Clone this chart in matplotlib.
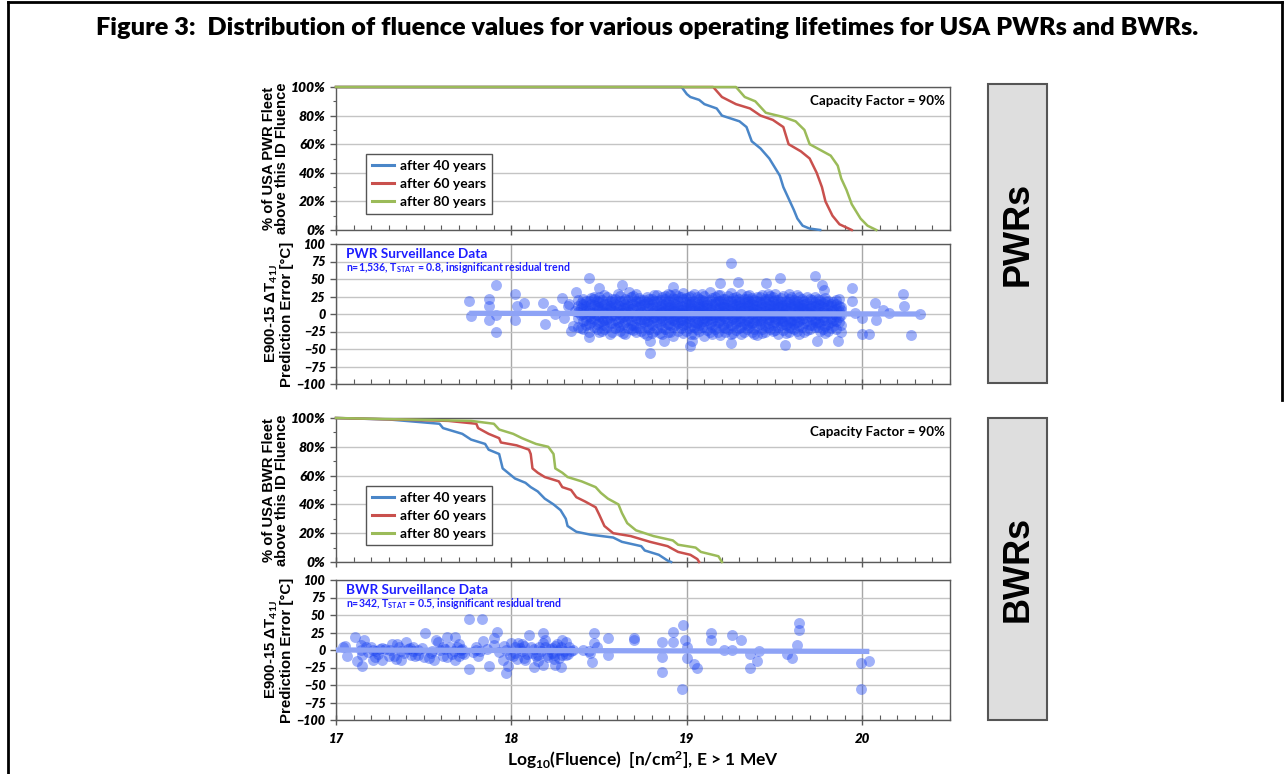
import matplotlib
matplotlib.use('Agg')
import matplotlib.pyplot as plt
from matplotlib.patches import Rectangle
from matplotlib.lines import Line2D
from matplotlib.ticker import MultipleLocator, FuncFormatter

plt.rcParams['font.family'] = ['Lato', 'DejaVu Sans']
plt.rcParams['mathtext.fontset'] = 'custom'
plt.rcParams['mathtext.rm'] = 'Lato:bold'
plt.rcParams['mathtext.bf'] = 'Lato:bold'
plt.rcParams['mathtext.it'] = 'Lato:bold:italic'
plt.rcParams['mathtext.default'] = 'bf'

# ---------------- data ----------------
series_labels = ['after 40 years', 'after 60 years', 'after 80 years']
series_colors = ['#4a86c8', '#c9504d', '#9bbb59']

# PWR exceedance curves (log10 fluence, % of fleet)
pwr40_x = [17.0, 18.97, 19.0, 19.02, 19.07, 19.1, 19.17, 19.2, 19.25, 19.3, 19.34, 19.37, 19.42, 19.47, 19.5, 19.53, 19.55, 19.58, 19.61, 19.63, 19.66, 19.7, 19.76]
pwr40_y = [100, 100, 95, 93, 91, 88, 85, 80, 78, 76, 72, 62, 57, 50, 44, 38, 30, 22, 14, 8, 3, 1, 0]
pwr60_x = [17.0, 19.15, 19.2, 19.28, 19.36, 19.42, 19.49, 19.55, 19.58, 19.65, 19.7, 19.74, 19.77, 19.79, 19.83, 19.87, 19.94]
pwr60_y = [100, 100, 93, 88, 85, 80, 77, 72, 60, 55, 50, 40, 30, 20, 10, 4, 0]
pwr80_x = [17.0, 19.28, 19.33, 19.39, 19.45, 19.55, 19.62, 19.67, 19.7, 19.76, 19.82, 19.86, 19.88, 19.91, 19.94, 19.99, 20.03, 20.08]
pwr80_y = [100, 100, 93, 90, 82, 79, 76, 70, 60, 56, 52, 45, 36, 28, 18, 8, 3, 0]

# BWR exceedance curves
bwr40_x = [17.0, 17.3, 17.59, 17.61, 17.72, 17.77, 17.85, 17.87, 17.93, 17.95, 17.98, 18.02, 18.08, 18.11, 18.15, 18.19, 18.24, 18.28, 18.31, 18.32, 18.37, 18.45, 18.58, 18.63, 18.74, 18.76, 18.84, 18.89, 18.91]
bwr40_y = [100, 99, 96, 93, 89, 85, 82, 78, 75, 65, 62, 58, 55, 52, 49, 44, 40, 36, 30, 25, 21, 19, 17, 14, 11, 8, 5, 1, 0]
bwr60_x = [17.0, 17.64, 17.8, 17.81, 17.87, 17.93, 17.94, 18.03, 18.1, 18.11, 18.12, 18.15, 18.19, 18.27, 18.29, 18.34, 18.37, 18.42, 18.48, 18.5, 18.53, 18.58, 18.68, 18.79, 18.89, 18.95, 19.02, 19.06, 19.07]
bwr60_y = [100, 98, 96, 93, 89, 86, 83, 81, 78, 75, 65, 62, 59, 56, 52, 50, 45, 42, 38, 33, 25, 20, 18, 14, 11, 7, 5, 2, 0]
bwr80_x = [17.0, 17.77, 17.9, 17.93, 18.01, 18.06, 18.14, 18.21, 18.24, 18.25, 18.29, 18.32, 18.4, 18.48, 18.51, 18.55, 18.61, 18.63, 18.66, 18.71, 18.81, 18.92, 18.95, 19.05, 19.08, 19.18, 19.2]
bwr80_y = [100, 98, 96, 92, 89, 86, 82, 80, 75, 65, 62, 59, 56, 52, 48, 44, 40, 34, 27, 22, 18, 15, 12, 10, 7, 4, 0]

# PWR surveillance residuals: dense core, columns of (fluence, [errors])
pwr_core = [
    (18.38, [12, -5, 20, -18, 3]), (18.395, [-2, 16, -20, 8]),
    (18.41, [-10, 7, 22, -22, 0, 15]), (18.425, [5, -9, 19, -16, 11]),
    (18.44, [4, -14, 18, -25, 9, -3]), (18.455, [-12, 2, 23, -6, 15]),
    (18.47, [-7, 13, 25, -19, 2, 21]), (18.485, [8, -21, 12, -1, 18, -14]),
    (18.50, [10, -12, -26, 6, 17, -3, 24]), (18.515, [-5, 20, -10, 4, -24, 11]),
    (18.53, [-16, 1, 14, -8, 27, -22]), (18.545, [15, -7, 24, -18, 1, 9]),
    (18.56, [8, -4, 19, -28, 12, -13, 3]), (18.575, [-13, 6, -25, 17, -2, 22]),
    (18.59, [-9, 22, 5, -20, 15, -2]), (18.605, [3, -11, 13, 28, -19, 7]),
    (18.62, [11, -17, 26, -6, 0, 18, -24]), (18.635, [-4, 18, -14, 9, -27, 2]),
    (18.65, [-11, 4, 21, -29, 9, -3, 14]), (18.665, [12, -20, 5, 20, -9, -1]),
    (18.68, [16, -8, 2, -22, 24, 7, -15]), (18.695, [-16, 8, 26, -3, 14, -23]),
    (18.71, [-5, 12, -18, 28, -1, 19, -26]), (18.725, [2, -9, 17, -20, 10, 23]),
    (18.74, [6, -13, 20, -7, 3, -24, 13]), (18.755, [-7, 14, -27, 5, 20, -12]),
    (18.77, [-10, 17, -2, 25, -19, 9, -30]), (18.785, [9, -3, 22, -14, 16, -21, 0]),
    (18.80, [14, -6, 1, -16, 22, -27, 8]), (18.815, [-9, 18, -24, 4, 27, -4]),
    (18.83, [-12, 5, 27, -21, 11, -1, 18]), (18.845, [6, -14, 11, -27, 20, -6, 1]),
    (18.86, [3, -18, 15, -8, 24, -29, 9, -3]), (18.875, [-2, 22, -11, 14, -21, 6, 26]),
    (18.89, [-14, 10, -25, 19, 0, 29, -7, 13]), (18.905, [13, -6, 2, -16, 27, -26, 9]),
    (18.92, [7, -9, 23, -19, 4, -31, 16, -2]), (18.935, [-10, 5, 15, -3, 21, -15, 28]),
    (18.95, [-4, 18, -13, 8, 26, -24, 1, 12]), (18.965, [1, -20, 12, -8, 25, 6, -12]),
    (18.98, [11, -16, 2, 21, -8, 30, -27, 6]), (18.995, [-5, 17, -24, 8, 2, -14, 23]),
    (19.01, [-6, 14, -20, 9, -1, 25, -12, 17]), (19.025, [10, -3, 26, -17, 5, -29, 14]),
    (19.04, [4, -11, 19, -28, 12, -3, 28, -18]), (19.055, [-13, 4, 16, -6, 24, -21, 1]),
    (19.07, [-9, 7, 22, -15, 1, 15, -24, 10]), (19.085, [6, -18, 11, -2, 29, -10, 20]),
    (19.10, [13, -5, -19, 26, 5, -31, 18, -10]), (19.115, [-8, 13, 1, -23, 17, -4, 8]),
    (19.13, [-2, 20, -14, 9, -26, 3, 31, -7]), (19.145, [14, -10, 23, -1, -18, 6, -28]),
    (19.16, [8, -17, 14, -4, 24, -22, 0, 17]), (19.175, [-4, 8, -26, 19, 3, -12, 27]),
    (19.19, [-12, 3, 27, -9, 12, -30, 19, -1]), (19.205, [10, -15, 5, -3, 21, -19, 14]),
    (19.22, [6, -20, 16, -6, 22, 1, -25, 10]), (19.235, [-11, 18, 0, -22, 9, 26, -6]),
    (19.25, [-8, 11, -16, 30, 4, -28, 18, -2]), (19.265, [4, -7, 14, -17, 23, -27, 8]),
    (19.28, [15, -3, 24, -13, 7, -23, 0, 20]), (19.295, [-6, 21, -10, 2, 17, -20, 12]),
    (19.31, [-10, 5, -18, 13, 28, -5, -29, 9]), (19.325, [9, -1, -25, 16, 6, -14, 22]),
    (19.34, [2, -15, 21, -8, 17, 11, -22, 26]), (19.355, [-12, 13, 4, -5, 27, -19, 18]),
    (19.37, [-6, 9, -26, 23, 0, 15, -13, 4]), (19.385, [7, -22, 20, -11, 1, 13, -28]),
    (19.40, [12, -2, 19, -17, 6, -30, 25, -9]), (19.415, [-3, 8, -14, 24, -8, 17, 3]),
    (19.43, [-11, 16, 3, -21, 27, -5, 10, -27]), (19.445, [11, -17, 5, -25, 19, -1, 22]),
    (19.46, [7, -13, 22, 0, -19, 14, -7, 29]), (19.475, [-9, 2, 13, -4, 26, -21, 7]),
    (19.49, [-4, 18, -24, 9, 2, -15, 24, 12]), (19.505, [4, -12, 20, -7, 15, 28, -23]),
    (19.52, [10, -8, 15, -28, 20, -2, 5, -18]), (19.535, [-6, 23, -16, 11, 0, -9, 17]),
    (19.55, [-14, 3, 26, -10, 13, -23, 8, 0]), (19.565, [9, -3, 19, -27, 6, -15, 13]),
    (19.58, [5, -19, 17, -5, 22, -12, 28, -26]), (19.595, [-11, 15, 2, -8, 24, -20, 10]),
    (19.61, [-8, 12, -2, 20, -22, 7, -14, 16]), (19.625, [5, -24, 11, 18, -4, 27, -12]),
    (19.64, [14, -10, 1, 24, -17, 9, -29, 5]), (19.655, [-7, 8, 22, -18, 13, -1]),
    (19.67, [-5, 19, -13, 8, -25, 3, 15]), (19.685, [3, -10, 16, -23, 7, 24]),
    (19.70, [9, -16, 21, -3, 12, -21, 1]), (19.715, [-15, 12, -2, 20, -7, 5]),
    (19.73, [-12, 6, 17, -8, 25, -19, 11]), (19.745, [8, -19, 15, -1, -11, 22]),
    (19.76, [3, -14, 13, -24, 20, -4]), (19.775, [-4, 10, -21, 5, 16, -9]),
    (19.79, [-9, 8, 18, -17, 1, 23, -27]), (19.805, [13, -14, 2, -24, 19]),
    (19.82, [11, -6, -20, 15, 4, -12]), (19.835, [-8, 6, 17, -17, 0]),
    (19.85, [-3, 14, -22, 7, 20, -10]), (19.865, [4, -11, 12, -4, 21]),
    (19.88, [6, -15, 10, -1, -26]),
]
# PWR sparse / outlying points
pwr_out_x = [17.76, 17.77, 17.87, 17.87, 17.87, 17.91, 17.91, 17.91, 18.02, 18.02, 18.03, 18.07, 18.18, 18.19, 18.23, 18.25, 18.29, 18.32,
             18.37, 18.44, 18.44, 18.5, 18.63, 18.67, 18.79, 18.79, 18.87, 18.92, 19.02, 19.03, 19.25, 19.19, 19.29, 19.25, 19.45, 19.53,
             19.56, 19.73, 19.77, 19.78, 19.74, 19.86, 19.94, 19.94, 19.96, 20.0, 20.04, 20.0, 20.07, 20.08, 20.12, 20.15, 20.23, 20.24, 20.28, 20.33,
             18.30, 18.33, 18.35, 18.36, 18.34]
pwr_out_y = [18, -3, 22, 11, -9, 42, -26, -1, 28, -8, 11, 16, 16, -14, 6, 0, 23, 11,
             32, 51, -33, 37, 42, 32, -56, -39, -38, 39, -46, -39, 73, 44, 46, -41, 44, 51,
             -44, 54, 42, 35, -38, -39, 37, 18, 1, -29, -29, -6, 16, -8, 6, 1, 28, 11, -30, 0,
             -6, 14, -17, 5, -24]
pwr_trend_x = [17.76, 20.33]
pwr_trend_y = [1, 0]

# BWR surveillance residuals
bwr_x = [17.04, 17.05, 17.06, 17.11, 17.12, 17.14, 17.14, 17.15, 17.15, 17.16, 17.17, 17.20, 17.21, 17.21, 17.22, 17.23, 17.25, 17.26, 17.26,
         17.30, 17.31, 17.32, 17.33, 17.34, 17.35, 17.37, 17.37, 17.40, 17.42, 17.43, 17.44, 17.44, 17.47, 17.47, 17.50, 17.51, 17.53, 17.54,
         17.56, 17.57, 17.58, 17.61, 17.61, 17.62, 17.63, 17.63, 17.67, 17.68, 17.68, 17.69, 17.70, 17.70, 17.72, 17.72, 17.76, 17.76, 17.80,
         17.80, 17.81, 17.83, 17.84, 17.87, 17.90, 17.90, 17.92, 17.95, 17.97, 17.98, 17.97, 17.99, 18.00, 18.01, 18.02, 18.03, 18.04, 18.06,
         18.06, 18.07, 18.08, 18.10, 18.11, 18.12, 18.13, 18.15, 18.15, 18.16, 18.18, 18.18, 18.18, 18.19, 18.20, 18.22, 18.23, 18.24, 18.24,
         18.25, 18.26, 18.27, 18.28, 18.29, 18.29, 18.31, 18.31, 18.33, 18.34, 18.35, 18.41, 18.44, 18.45, 18.46, 18.47, 18.47, 18.49, 18.55,
         18.55, 18.70, 18.70, 18.86, 18.86, 18.86, 18.92, 18.92, 18.97, 18.98, 18.99, 19.00, 19.00, 19.04, 19.06, 19.14, 19.14, 19.21, 19.26,
         19.26, 19.31, 19.36, 19.36, 19.40, 19.41, 19.57, 19.60, 19.63, 19.64, 19.64, 19.99, 20.04, 19.99,
         17.18, 17.24, 17.28, 17.36, 17.39, 17.41, 17.45, 17.49, 17.55, 17.59, 17.65, 17.66, 17.71, 17.73, 17.78, 17.82, 17.86, 17.93, 17.96,
         18.02, 18.05, 18.07, 18.09, 18.13, 18.14, 18.17, 18.19, 18.21, 18.23, 18.25, 18.27, 18.28, 18.30, 18.32]
bwr_y = [5, 6, -9, 19, -16, 7, 0, -7, -23, 15, 4, 5, -14, 0, -10, -2, 2, -14, 3,
         -8, 0, 9, -9, -13, 9, -2, -14, 12, 3, -7, 5, -2, 0, -7, -10, 25, -12, -4,
         -14, 14, 12, 5, -9, 2, 19, -10, -2, -14, 19, 5, 8, -9, 2, -4, -27, 44, 0,
         5, -9, 44, 13, -23, 17, 7, 26, -14, -33, -23, 0, -7, 10, -9, 5, -13, 10, -2,
         9, -12, -14, 22, 4, -4, -24, -7, -16, 5, 25, 10, -22, 14, -7, 2, 3, -7, -13,
         -21, 9, 0, -24, 14, -7, 12, -7, 5, -2, 0, 0, -2, -4, -17, 24, 10, 5, 17,
         -7, 17, 15, 12, -10, -31, 26, 12, -55, 36, 14, 4, -12, -20, -26, 24, 14, 0, 21,
         0, 14, -5, -25, -15, -1, -6, -11, 7, 38, 28, -19, -15, -56,
         -3, -5, 2, 4, -4, 1, -9, 3, -2, 0, 4, -6, 0, -6, -3, -1, 2, -3, 6,
         -4, 3, 6, -6, 2, -9, -2, 4, -10, -4, 6, -11, 4, -2, -5]
bwr_trend_x = [17.0, 20.04]
bwr_trend_y = [0, -2]

x_major = [17, 18, 19, 20]
pct_ticks = [0, 20, 40, 60, 80, 100]
err_ticks = [-100, -75, -50, -25, 0, 25, 50, 75, 100]

# ---------------- figure ----------------
W, H = 1285, 774
fig = plt.figure(figsize=(W / 100, H / 100), dpi=100)

def fx(px):
    return px / W

def fy(py):
    return 1 - py / H

AX_L, AX_R = 336, 950
def make_ax(top, bottom):
    return fig.add_axes([fx(AX_L), fy(bottom), fx(AX_R - AX_L), (bottom - top) / H])

ax_pc = make_ax(87, 230)
ax_ps = make_ax(244, 384)
ax_bc = make_ax(418, 562)
ax_bs = make_ax(580, 720)

spine_col = '#5a5a5a'
grid_col = '#c4c4c4'

def style_common(ax, show_xlabels, ylabsize):
    ax.set_xlim(17, 20.5)
    ax.set_xticks(x_major)
    ax.xaxis.set_minor_locator(MultipleLocator(0.1))
    for s in ax.spines.values():
        s.set_color(spine_col)
        s.set_linewidth(1.0)
    ax.tick_params(axis='x', which='major', direction='inout', length=7, width=1, color=spine_col,
                   labelbottom=show_xlabels, labelsize=9.5, pad=6)
    ax.tick_params(axis='x', which='minor', direction='in', length=3.5, width=0.8, color=spine_col)
    ax.tick_params(axis='y', which='major', direction='out', length=4, width=1, color=spine_col, labelsize=ylabsize)
    ax.tick_params(axis='y', which='minor', direction='out', length=2.5, width=0.8, color=spine_col)
    ax.set_axisbelow(True)
    for lab in ax.get_xticklabels() + ax.get_yticklabels():
        lab.set_fontweight('heavy')
        lab.set_fontstyle('italic')

def style_pct(ax, fleet):
    ax.set_ylim(0, 100)
    ax.set_yticks(pct_ticks)
    ax.yaxis.set_minor_locator(MultipleLocator(10))
    ax.yaxis.set_major_formatter(FuncFormatter(lambda v, p: f'{int(v)}%'))
    ax.grid(axis='y', which='major', color=grid_col, linewidth=1.0)
    style_common(ax, False, 10)
    ax.set_ylabel(f'% of USA {fleet} Fleet\nabove this ID Fluence', family=['Liberation Sans', 'DejaVu Sans'],
                  fontweight='bold', fontsize=10.6, linespacing=0.95, labelpad=1)
    ax.text(0.992, 0.9, 'Capacity Factor = 90%', transform=ax.transAxes, ha='right', va='center',
            fontsize=9.6, fontweight='bold')

def style_err(ax, show_xlabels):
    ax.set_ylim(-100, 100)
    ax.set_yticks(err_ticks)
    ax.grid(axis='y', which='major', color=grid_col, linewidth=1.0)
    ax.grid(axis='x', which='major', color='#a8a8a8', linewidth=1.0)
    style_common(ax, show_xlabels, 9)
    ax.set_ylabel('E900-15 ΔT$_{41J}$\nPrediction Error [°C]', family=['Liberation Sans', 'DejaVu Sans'],
                  fontweight='bold', fontsize=10.8, linespacing=1.0, labelpad=2)

curves = [
    (ax_pc, [(pwr40_x, pwr40_y), (pwr60_x, pwr60_y), (pwr80_x, pwr80_y)], 'PWR'),
    (ax_bc, [(bwr40_x, bwr40_y), (bwr60_x, bwr60_y), (bwr80_x, bwr80_y)], 'BWR'),
]
for ax, sers, fleet in curves:
    for (xs, ys), lab, col in zip(sers, series_labels, series_colors):
        ax.plot(xs, ys, color=col, linewidth=1.8, label=lab, clip_on=False, zorder=3)
    style_pct(ax, fleet)
    leg = ax.legend(loc='lower left', bbox_to_anchor=(0.049, 0.115), borderaxespad=0, fancybox=False,
                    framealpha=1, edgecolor='#555555', handlelength=1.6, handletextpad=0.45,
                    labelspacing=0.42, borderpad=0.42, prop=dict(family=['Lato', 'DejaVu Sans'], weight='bold', size=10))
    leg.get_frame().set_linewidth(1.0)
    for h in leg.legend_handles:
        h.set_linewidth(2.2)

pwr_x = [c[0] for c in pwr_core for _ in c[1]] + pwr_out_x
pwr_y = [v for c in pwr_core for v in c[1]] + pwr_out_y

dot_col = '#1e46f2'
trend_col = '#8ea3f6'
for ax, xs, ys, tx, ty, name, note, xl in [
    (ax_ps, pwr_x, pwr_y, pwr_trend_x, pwr_trend_y, 'PWR Surveillance Data',
     'n=1,536, T$_{STAT}$ = 0.8, insignificant residual trend', False),
    (ax_bs, bwr_x, bwr_y, bwr_trend_x, bwr_trend_y, 'BWR Surveillance Data',
     'n=342, T$_{STAT}$ = 0.5, insignificant residual trend', True),
]:
    ax.scatter(xs, ys, s=62, color=dot_col, alpha=0.42, linewidths=0, zorder=2)
    ax.plot(tx, ty, color=trend_col, linewidth=3.8, solid_capstyle='butt', zorder=3)
    style_err(ax, xl)
    ax.text(0.016, 0.93, name, transform=ax.transAxes, ha='left', va='center', color='#1e1eff',
            fontsize=9.8, fontweight='bold')
    ax.text(0.016, 0.83, note, transform=ax.transAxes, ha='left', va='center', color='#1e1eff',
            fontsize=7.6, fontweight='bold')

ax_bs.set_xlabel('Log$_{10}$(Fluence)  [n/cm$^{2}$], E > 1 MeV', fontsize=12.5, fontweight='bold', labelpad=3)

# title
fig.text(fx(647), fy(28), 'Figure 3:  Distribution of fluence values for various operating lifetimes for USA PWRs and BWRs.',
         ha='center', va='center', fontsize=18.2, fontweight='heavy')

# side boxes
for top, bottom, label in [(84, 383, 'PWRs'), (418, 720, 'BWRs')]:
    fig.add_artist(Rectangle((fx(988), fy(bottom)), fx(1047 - 988), (bottom - top) / H,
                             transform=fig.transFigure, facecolor='#dedede', edgecolor='#555555', linewidth=1.5))
    fig.text(fx(1018), fy((top + bottom) / 2), label, rotation=90, ha='center', va='center',
             family=['Liberation Sans', 'DejaVu Sans'], fontweight='bold', fontsize=26)

# page border
fig.add_artist(Line2D([fx(8), fx(8)], [0, fy(2)], transform=fig.transFigure, color='black', linewidth=2))
fig.add_artist(Line2D([fx(8), fx(1282)], [fy(2), fy(2)], transform=fig.transFigure, color='black', linewidth=2))
fig.add_artist(Line2D([fx(1282), fx(1282)], [fy(2), fy(400)], transform=fig.transFigure, color='black', linewidth=2))

fig.savefig('out.png', dpi=100)
